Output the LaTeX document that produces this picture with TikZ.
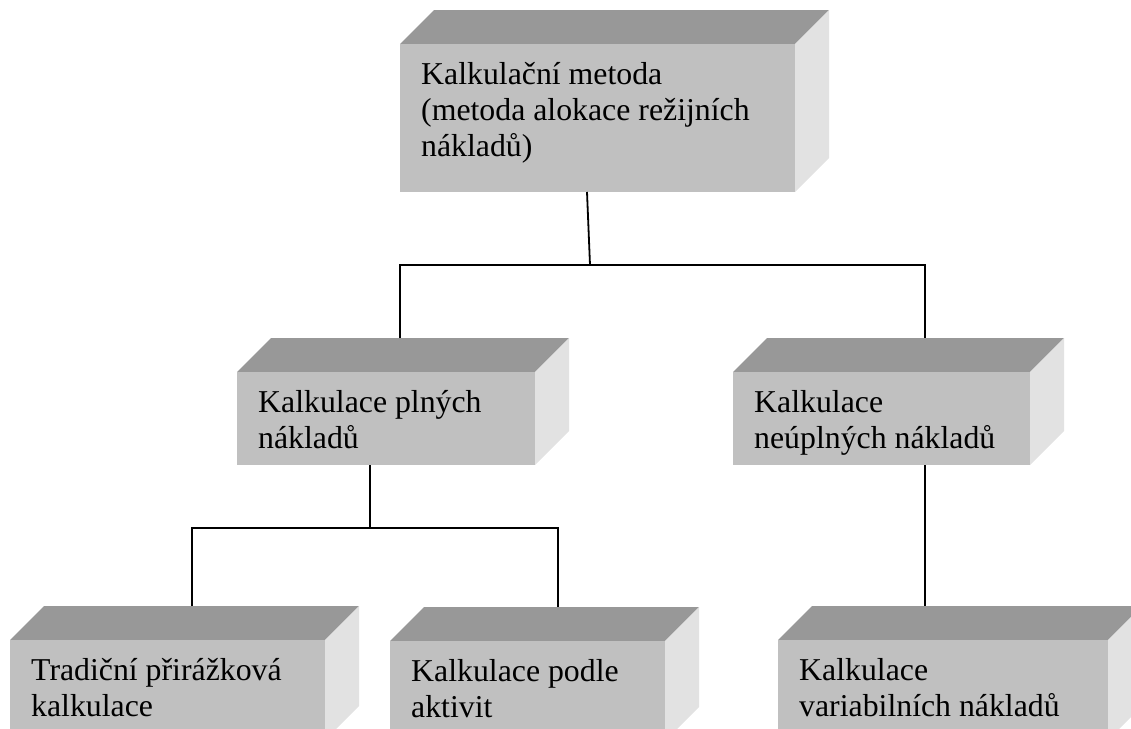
\documentclass[tikz,border=0pt]{standalone}
\usepackage{fontspec}
\setmainfont{Liberation Serif}
\definecolor{frontc}{HTML}{C0C0C0}
\definecolor{topc}{HTML}{989898}
\definecolor{sidec}{HTML}{E2E2E2}
\tikzset{
  front/.style={fill=frontc, draw=none, inner sep=0pt, outer sep=0pt},
  topface/.style={fill=topc, draw=none},
  sideface/.style={fill=sidec, draw=none},
  txt/.style={align=left, inner sep=0pt, font=\fontsize{31.8}{36}\selectfont},
  conn/.style={draw=black, line width=1.8pt}
}
% name, x, y, w, h, text
\newcommand\cubebox[6]{%
  \fill[topface] (#2,#3) -- ++(34,-34) -- ++(#4,0) -- ++(-34,34) -- cycle;
  \fill[sideface] (#2+#4,#3) -- ++(34,-34) -- ++(0,#5) -- ++(-34,34) -- cycle;
  \node[front, minimum width=#4pt, minimum height=#5pt, anchor=north west] (#1) at (#2,#3) {};
  \coordinate (#1-back) at (#2+34,#3-34);
  \node[txt, anchor=north west] (#1-t) at ([xshift=21pt,yshift=-10pt]#1.north west) {\rule{0pt}{30pt}#6};
}
\begin{document}
\begin{tikzpicture}[x=1pt,y=-1pt]
\useasboundingbox (0,0) rectangle (1131,728);
\clip (0,0) rectangle (1131,728);
\cubebox{top}{400}{44}{395}{148}{Kalkulační metoda\\(metoda alokace režijních\\nákladů)}
\cubebox{ml}{237}{372}{298}{93}{Kalkulace plných\\nákladů}
\cubebox{mr}{733}{372}{297}{93}{Kalkulace\\neúplných nákladů}
\cubebox{bl}{10}{640}{315}{100}{Tradiční přirážková\\kalkulace}
\cubebox{bm}{390}{641}{275}{100}{Kalkulace podle\\aktivit}
\cubebox{br}{778}{640}{330}{100}{Kalkulace\\variabilních nákladů}
\coordinate (j1) at (590,265);
\coordinate (j2) at (370,528);
\draw[conn] ([xshift=-10.5pt]top.south) -- (j1);
\draw[conn] ([xshift=129pt]ml-back) |- (j1) -| ([xshift=158pt]mr-back);
\draw[conn] ([xshift=133pt]ml.south west) -- (j2);
\draw[conn] ([xshift=148pt]bl-back) |- (j2) -| ([xshift=134pt]bm-back);
\draw[conn] ([xshift=192pt]mr.south west) -- ([xshift=113pt]br-back);
\end{tikzpicture}
\end{document}
